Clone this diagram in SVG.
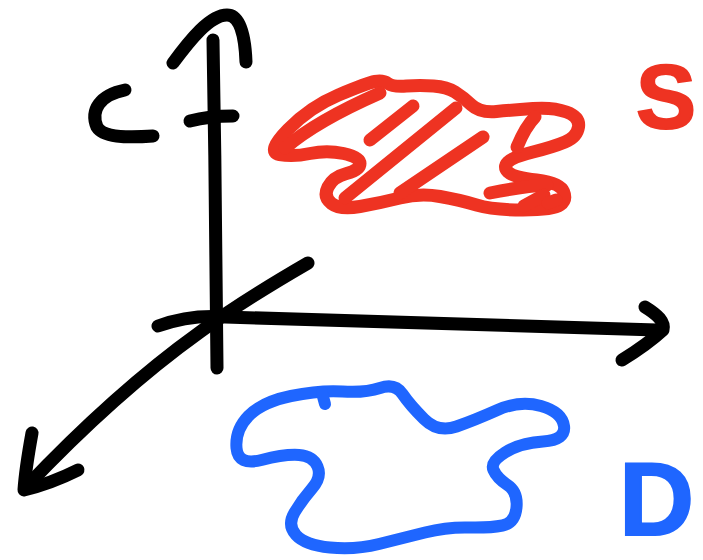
<svg xmlns="http://www.w3.org/2000/svg" width="703" height="560" viewBox="0 0 703 560">
<style>
.ink{fill:none;stroke-linecap:round;stroke-linejoin:round}
.k{stroke:#000;stroke-width:13}
.r{stroke:#ee3322;stroke-width:13}
.b{stroke:#1f66ff;stroke-width:12}
.lbl{font-family:"Liberation Sans",Arial,sans-serif;font-weight:bold}
</style>
<rect width="703" height="560" fill="#fff"/>
<g id="axes">
<path class="ink k" d="M213,40 C215,150 216,250 217,368"/>
<path class="ink k" d="M173,63 C190,40 210,15 227,15 C240,15 245,35 246,62"/>
<path class="ink k" d="M190,121 C205,117 220,116 233,116"/>
<path class="ink k" d="M158,326 C180,318 200,315 225,317 C350,322 500,326 657,330"/>
<path class="ink k" d="M645,307 C658,315 665,322 663,330 C650,342 635,352 622,360"/>
<path class="ink k" d="M308,263 C270,285 230,310 200,332 C140,375 80,430 25,488"/>
<path class="ink k" d="M32,433 C28,455 25,475 24,490 C45,485 62,478 78,470"/>
<path class="ink k" d="M125,90 C100,95 90,110 97,127 C103,137 125,138 153,136"/>
</g>
<g id="surface-S">
<path class="ink r" d="M279.5,154.5 Q266,152 288,129.5 Q310,107 338.5,95 Q367,83 375,81.5 Q383,80 388,83.5 Q393,87 406.5,86 Q420,85 433.5,86 Q447,87 455,92 Q463,97 471.5,105 Q480,113 496.5,111.5 Q513,110 533,108.5 Q553,107 566.5,112 Q580,117 578.5,127 Q577,137 565,142 Q553,147 533,152 Q513,157 508,162 Q503,167 508,172 Q513,177 536.5,180 Q560,183 563.5,191.5 Q567,200 560,205 Q553,210 523,210 Q493,210 476.5,205 Q460,200 440,196.5 Q420,193 400,198 Q380,203 360,206.5 Q340,210 331.5,203.5 Q323,197 328,187 Q333,177 346.5,173.5 Q360,170 360,163.5 Q360,157 343.5,153.5 Q327,150 310,153.5 Q293,157 279.5,154.5 Z"/>
<path class="ink r" d="M285,148 C300,135 330,115 380,93"/>
<path class="ink r" d="M370,140 L413,106"/>
<path class="ink r" d="M345,198 L456,108"/>
<path class="ink r" d="M400,193 L483,137"/>
<path class="ink r" d="M517,147 C522,135 527,125 535,117"/>
<path class="ink r" d="M490,193 C505,190 525,186 547,185"/>
<path class="ink r" d="M524,206 L544,195"/>
<path class="ink r" d="M548,203 L556,200"/>
<text class="lbl" x="636" y="128" font-size="90" fill="#ee3322" stroke="#ee3322" stroke-width="2">S</text>
</g>
<g id="region-D">
<path class="ink b" d="M261.5,460 Q238,466 236.5,448 Q235,430 248.5,416 Q262,402 291,396 Q320,390 342.5,391.5 Q365,393 380,388 Q395,383 402.5,394 Q410,405 424,419 Q438,433 456.5,426.5 Q475,420 497.5,410 Q520,400 541,406 Q562,412 564,426 Q566,440 543,441.5 Q520,443 505,452.5 Q490,462 493.5,470 Q497,478 507.5,485 Q518,492 516.5,507.5 Q515,523 502.5,525.5 Q490,528 468.5,527.5 Q447,527 425,532.5 Q403,538 379,544 Q355,550 330,547.5 Q305,545 296,535 Q287,525 294.5,512.5 Q302,500 312,488.5 Q322,477 317.5,466.5 Q313,456 299,455 Q285,454 261.5,460 Z"/>
<path class="ink b" d="M322,393 L325,404"/>
<text class="lbl" x="619" y="535" font-size="104" fill="#1f66ff" stroke="#1f66ff" stroke-width="2">D</text>
</g>
</svg>
